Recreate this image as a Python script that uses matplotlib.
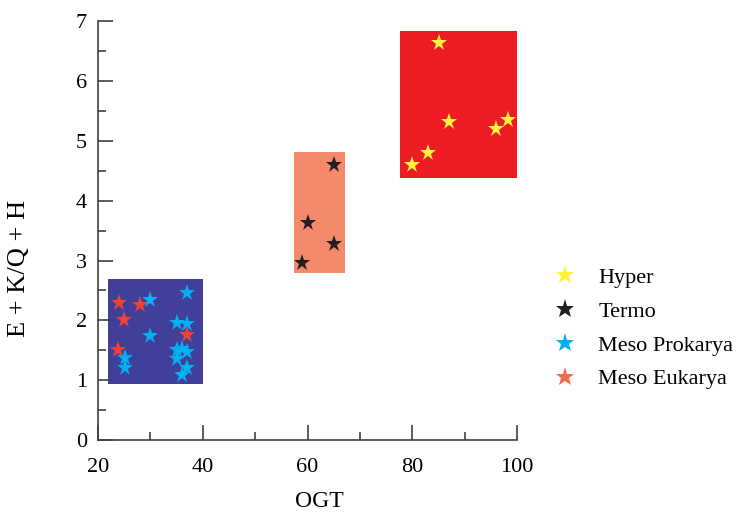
import matplotlib
matplotlib.use('Agg')
import matplotlib.pyplot as plt
from matplotlib.patches import Rectangle
from matplotlib.lines import Line2D

plt.rcParams['font.family'] = ['Liberation Serif', 'DejaVu Serif']

# Data
hyper_x = [85, 87, 80, 83, 96, 98.3]
hyper_y = [6.63, 5.31, 4.59, 4.79, 5.2, 5.34]

termo_x = [65, 60, 65, 59]
termo_y = [4.6, 3.63, 3.27, 2.96]

prok_x = [30, 37, 35, 37, 30, 25.2, 25.2, 35, 36, 37, 35, 36.9, 36]
prok_y = [2.34, 2.45, 1.96, 1.94, 1.74, 1.38, 1.21, 1.50, 1.52, 1.48, 1.36, 1.21, 1.09]

euk_x = [24.1, 28, 25, 37, 23.9]
euk_y = [2.29, 2.26, 2.0, 1.75, 1.51]

# group boxes: (x0, x1, y0, y1)
boxes = [(21.9, 40.0, 0.93, 2.69), (57.4, 67.2, 2.79, 4.81), (77.7, 99.9, 4.38, 6.83)]
box_colors = ['#40409a', '#f4896b', '#ed1c24']

labels = ['Hyper', 'Termo', 'Meso Prokarya', 'Meso Eukarya']
star_colors = ['#fff23a', '#231f20', '#00b0f0', '#ef4136']
legend_colors = ['#fff23a', '#231f20', '#00b0f0', '#f26c4f']

fig = plt.figure(figsize=(7.42, 5.13), dpi=100)
ax = fig.add_axes([0.132, 0.142, 0.565, 0.817])

for (x0, x1, y0, y1), c in zip(boxes, box_colors):
    ax.add_patch(Rectangle((x0, y0), x1 - x0, y1 - y0, color=c, lw=0, zorder=1))

series = [(hyper_x, hyper_y), (termo_x, termo_y), (prok_x, prok_y), (euk_x, euk_y)]
for (xs, ys), c in zip(series, star_colors):
    ax.plot(xs, ys, '*', color=c, markersize=12.5, markeredgewidth=0, zorder=3)

ax.set_xlim(20, 100)
ax.set_ylim(0, 7)
ax.set_xticks([20, 40, 60, 80, 100])
ax.set_xticks([30, 50, 70, 90], minor=True)
ax.set_yticks(range(8))
ax.set_yticks([0.5, 1.5, 2.5, 3.5, 4.5, 5.5, 6.5], minor=True)
ax.spines['top'].set_visible(False)
ax.spines['right'].set_visible(False)
for s in ['left', 'bottom']:
    ax.spines[s].set_color('#404040')
    ax.spines[s].set_linewidth(1.2)
ax.tick_params(which='major', direction='in', length=11, width=1.2, color='#404040',
               labelsize=16)
ax.tick_params(axis='x', which='major', pad=13)
ax.tick_params(axis='y', which='major', pad=8)
ax.tick_params(which='minor', direction='in', length=6, width=1.2, color='#404040')
ax.set_xlabel('OGT', fontsize=17)
ax.set_ylabel('E + K/Q + H', fontsize=19)
ax.xaxis.set_label_coords(0.527, -0.122)
ax.yaxis.set_label_coords(-0.162, 0.41)

handles = [Line2D([], [], marker='*', ls='none', color=c, markersize=14, markeredgewidth=0)
           for c in legend_colors]
fig.legend(handles, labels, loc='center left', bbox_to_anchor=(0.7466, 0.36),
           frameon=False, fontsize=16, labelspacing=0.6, handlelength=1.0,
           handletextpad=1.0, borderpad=0, borderaxespad=0)

fig.savefig('out.png', dpi=100)
